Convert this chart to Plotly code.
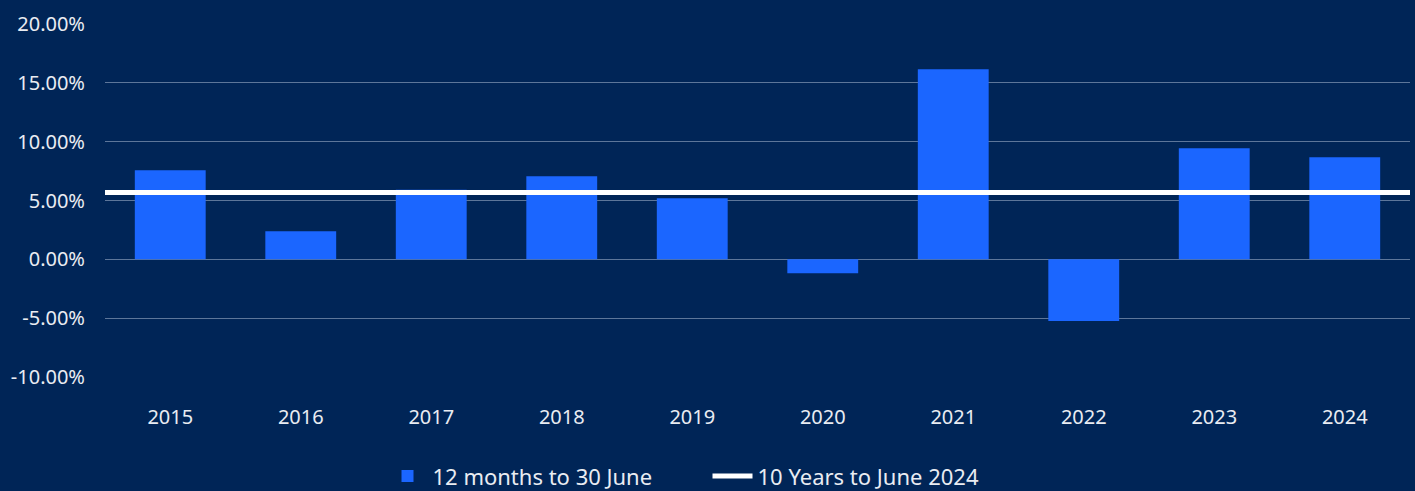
import plotly.graph_objects as go

years = ["2015", "2016", "2017", "2018", "2019", "2020", "2021", "2022", "2023", "2024"]
returns_12m = [7.57, 2.38, 5.92, 7.06, 5.19, -1.19, 16.16, -5.25, 9.44, 8.67]
ten_year_avg = 5.67
y_tickvals = [-10, -5, 0, 5, 10, 15, 20]
y_ticktext = ["-10.00%", "-5.00%", "0.00%", "5.00%", "10.00%", "15.00%", "20.00%"]

BG = "#002557"
BAR = "#1B66FF"
GRID = "rgba(170,185,210,0.55)"
TXT = "#E9ECF2"
FONT = "Noto Sans, DejaVu Sans, sans-serif"

fig = go.Figure()
fig.add_trace(go.Bar(
    x=years, y=returns_12m, name="12 months to 30 June",
    marker=dict(color=BAR, line=dict(width=0)),
))
fig.add_trace(go.Scatter(
    x=[0, 1], y=[ten_year_avg, ten_year_avg], xaxis="x2",
    mode="lines", name="10 Years to June 2024",
    line=dict(color="white", width=5),
))

fig.update_layout(
    width=1415, height=491,
    paper_bgcolor=BG, plot_bgcolor=BG,
    margin=dict(l=105, r=5, t=24, b=114),
    font=dict(family=FONT, size=20, color=TXT),
    bargap=0.457,
    showlegend=True,
    legend=dict(
        orientation="h", xref="container", yref="container",
        x=0.5, xanchor="center", y=0.03, yanchor="middle",
        font=dict(size=22, color=TXT), bgcolor="rgba(0,0,0,0)",
        itemwidth=40, entrywidth=270, tracegroupgap=0,
    ),
    xaxis=dict(
        type="category", showgrid=False, zeroline=False, showline=False,
        ticks="outside", ticklen=22, tickcolor="rgba(0,0,0,0)",
        tickfont=dict(size=20, color=TXT),
    ),
    xaxis2=dict(overlaying="x", range=[0, 1], visible=False, fixedrange=True),
    yaxis=dict(
        range=[-10, 20], tickvals=y_tickvals, ticktext=y_ticktext,
        showgrid=True, gridcolor=GRID, gridwidth=1,
        zeroline=True, zerolinecolor=GRID, zerolinewidth=1,
        showline=False,
        ticks="outside", ticklen=15, tickcolor="rgba(0,0,0,0)",
        tickfont=dict(size=20, color=TXT),
    ),
)

fig.write_html("out.html", config={"displayModeBar": False})

with open("out.html", "r", encoding="utf-8") as f:
    html = f.read()
html = html.replace("<head>", "<head><style>html,body{margin:0;padding:0;background:%s;overflow:hidden;}</style>" % BG, 1)
with open("out.html", "w", encoding="utf-8") as f:
    f.write(html)
